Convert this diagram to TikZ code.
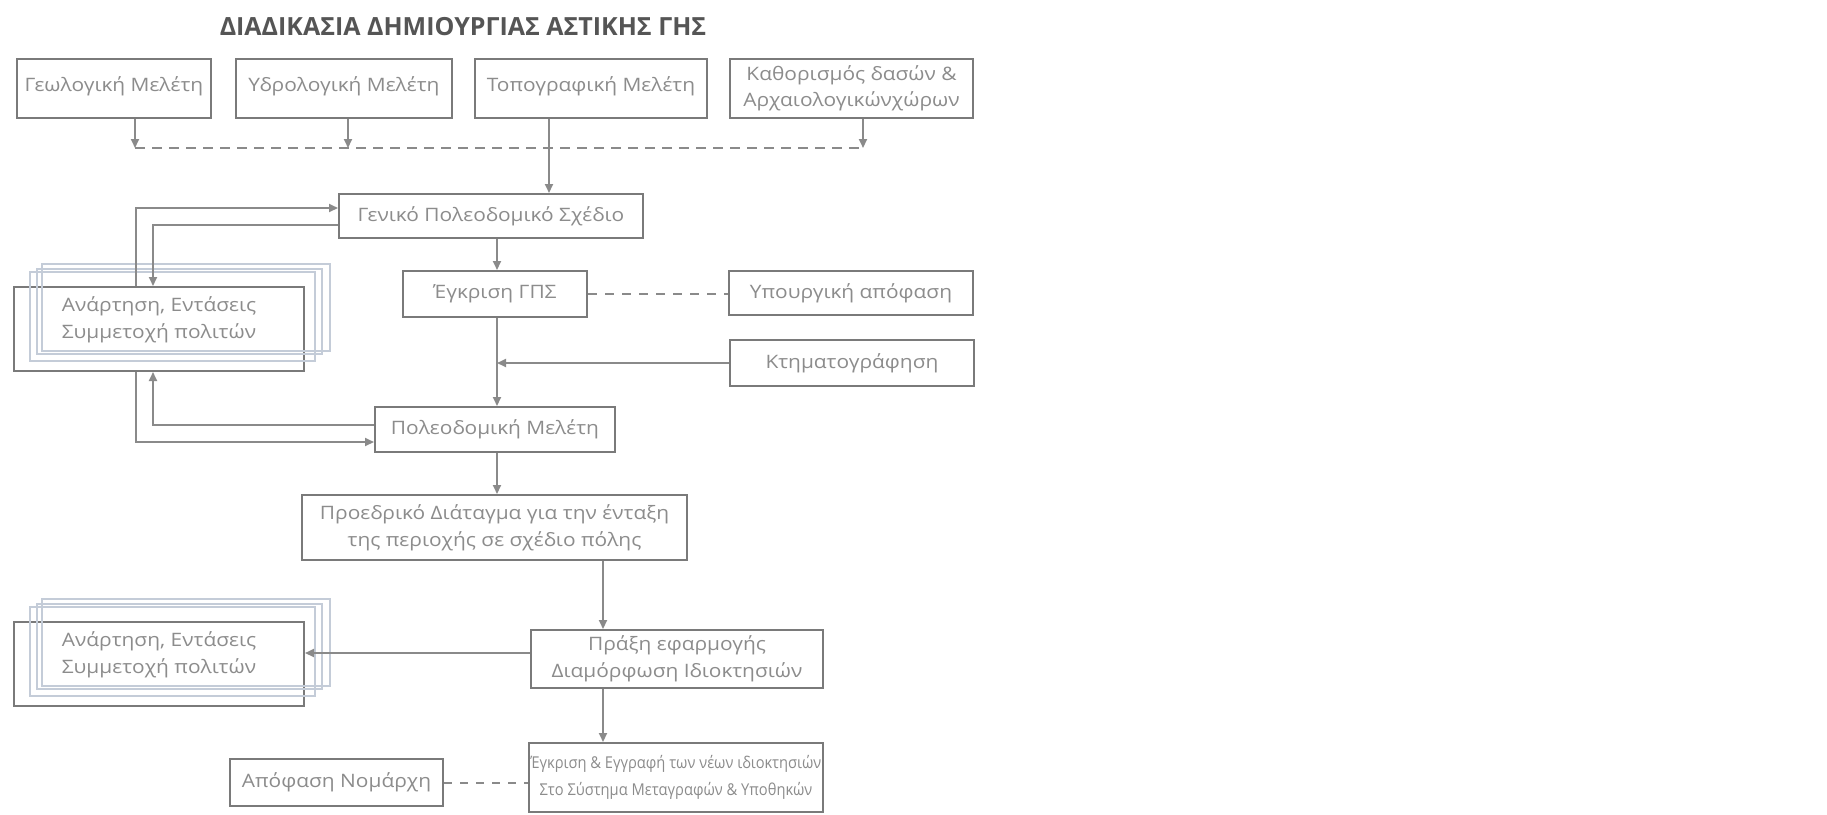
\documentclass[tikz,border=0pt]{standalone}
\usepackage{fontspec}
\setmainfont{Open Sans}
\newfontfamily\boxfont{Open Sans}[FakeStretch=1.13]
\newfontfamily\narrowfont{Open Sans}[FakeStretch=0.9]
\usetikzlibrary{arrows.meta,calc}
\definecolor{boxc}{RGB}{122,122,122}
\definecolor{linec}{RGB}{138,138,138}
\definecolor{txtc}{RGB}{140,140,140}
\definecolor{titc}{RGB}{85,85,85}
\definecolor{backc}{RGB}{196,204,216}
\begin{document}
\begin{tikzpicture}[x=1pt,y=-1pt,
  box/.style={draw=boxc,line width=2pt,fill=white,text=txtc,align=center,inner sep=0pt,
    font=\boxfont\fontsize{18.5}{27}\selectfont},
  stackbox/.style={box,fill=none},
  conn/.style={draw=linec,line width=2pt},
  arr/.style={conn,-{Triangle[length=9pt,width=8pt]}},
  dsh/.style={conn,line width=2.6pt,dash pattern=on 10pt off 7pt},
  dshb/.style={conn,dash pattern=on 9pt off 8pt},
  dshc/.style={conn,dash pattern=on 8pt off 8pt},
  back/.style={draw=backc,line width=1.5pt}]
\useasboundingbox (0,0) rectangle (1827,814);
\fill[white] (0,0) rectangle (1827,814);

% title
\node[font=\bfseries\fontsize{25}{29}\selectfont,text=titc] (title) at (463,27)
  {ΔΙΑΔΙΚΑΣΙΑ ΔΗΜΙΟΥΡΓΙΑΣ ΑΣΤΙΚΗΣ ΓΗΣ};

% top row
\node[box,minimum width=194pt,minimum height=59pt] (geo) at (114,88.5) {Γεωλογική Μελέτη\rule[-8pt]{0pt}{0pt}};
\node[box,minimum width=216pt,minimum height=59pt] (hydro) at (344,88.5) {Υδρολογική Μελέτη\rule[-8pt]{0pt}{0pt}};
\node[box,minimum width=232pt,minimum height=59pt] (topo) at (591,88.5) {Τοπογραφική Μελέτη\rule[-8pt]{0pt}{0pt}};
\node[box,minimum width=243pt,minimum height=59pt,font=\boxfont\fontsize{18.5}{26}\selectfont] (kath) at (851.5,88.5)
  {Καθορισμός δασών \&\\Αρχαιολογικώνχώρων};

% main column
\node[box,minimum width=304pt,minimum height=44pt] (gen) at (491,216) {Γενικό Πολεοδομικό Σχέδιο};
\node[box,minimum width=184pt,minimum height=46pt] (egk) at (495,294) {Έγκριση ΓΠΣ};
\node[box,minimum width=244pt,minimum height=44pt] (ypo) at (851,293) {Υπουργική απόφαση};
\node[box,minimum width=244pt,minimum height=46pt] (ktim) at (852,363) {Κτηματογράφηση};
\node[box,minimum width=240pt,minimum height=45pt] (pol) at (495,429.5) {Πολεοδομική Μελέτη};
\node[box,minimum width=385pt,minimum height=65pt] (pd) at (494.5,527.5)
  {Προεδρικό Διάταγμα για την ένταξη\\της περιοχής σε σχέδιο πόλης};
\node[box,minimum width=292pt,minimum height=58pt] (prax) at (677,659)
  {Πράξη εφαρμογής\\Διαμόρφωση Ιδιοκτησιών};
\node[box,minimum width=294pt,minimum height=69pt,font=\narrowfont\fontsize{16.3}{27}\selectfont] (egg) at (676,777.5)
  {Έγκριση \& Εγγραφή των νέων ιδιοκτησιών\\Στο Σύστημα Μεταγραφών \& Υποθηκών};
\node[box,minimum width=213pt,minimum height=47pt] (apof) at (336.5,782.5) {Απόφαση Νομάρχη};

% stacked boxes
\node[stackbox,minimum width=290pt,minimum height=84pt] (an1) at (159,329)
  {Ανάρτηση, Εντάσεις\\Συμμετοχή πολιτών\rule[-22pt]{0pt}{0pt}};
\node[stackbox,minimum width=290pt,minimum height=84pt] (an2) at (159,664)
  {Ανάρτηση, Εντάσεις\\Συμμετοχή πολιτών\rule[-22pt]{0pt}{0pt}};
\foreach \n in {an1,an2}{
  \foreach \a/\b/\c/\d in {17/-14/10/-11, 24/-17/17/-18, 29/-22/25/-21}{
    \draw[back] ([shift={(\a,\b)}]\n.north west) rectangle ([shift={(\c,\d)}]\n.south east);
  }
}

% helper coordinates
\coordinate (dl) at (135,148);
\coordinate (dh) at (348,148);
\coordinate (dr) at (863,148);
\coordinate (xa) at (549,0);
\coordinate (xm) at (497,0);
\coordinate (xb) at (603,0);
\coordinate (xl1) at (136,0);
\coordinate (xl2) at (153,0);
\coordinate (yg1) at (0,208);
\coordinate (yg2) at (0,225);
\coordinate (yp1) at (0,442);
\coordinate (yp2) at (0,425);
\coordinate (yx) at (0,653);

% connectors
\draw[dsh] (dl) -- (dr);
\draw[arr] (geo.south -| dl) -- (dl);
\draw[arr] (hydro.south -| dh) -- (dh);
\draw[arr] (kath.south -| dr) -- (dr);
\draw[arr] (topo.south -| xa) -- (gen.north -| xa);
\draw[arr] (gen.south -| xm) -- (egk.north -| xm);
\draw[arr] (egk.south -| xm) -- (pol.north -| xm);
\draw[arr] (ktim.west) -- (ktim.west -| xm);
\draw[dshb] (egk.east) -- (ypo.west |- egk.east);
\draw[arr] (pol.south -| xm) -- (pd.north -| xm);
\draw[arr] (pd.south -| xb) -- (prax.north -| xb);
\draw[arr] (prax.south -| xb) -- (egg.north -| xb);
\draw[arr] (prax.west |- yx) -- (an2.east |- yx);
\draw[dshc] (apof.east) -- (egg.west |- apof.east);
\draw[arr] (an1.north -| xl1) |- (gen.west |- yg1);
\draw[arr] (gen.west |- yg2) -| (an1.north -| xl2);
\draw[arr] (an1.south -| xl1) |- (pol.west |- yp1);
\draw[arr] (pol.west |- yp2) -| (an1.south -| xl2);
\end{tikzpicture}
\end{document}
